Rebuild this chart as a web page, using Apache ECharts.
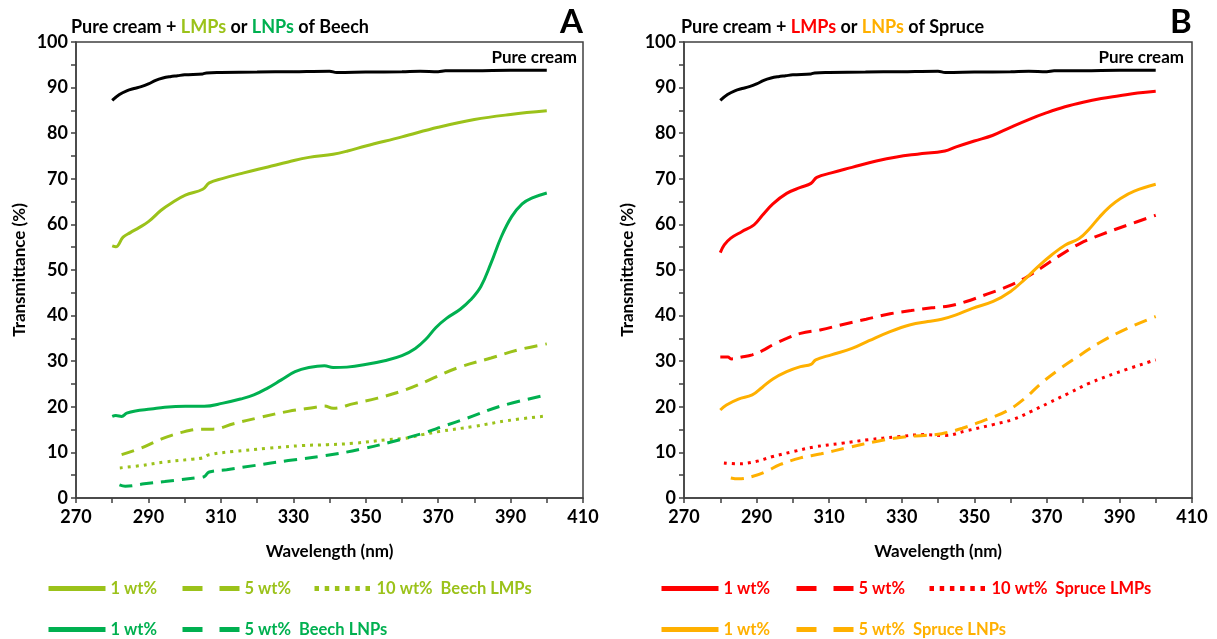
<!DOCTYPE html>
<html><head><meta charset="utf-8">
<script src="https://cdn.jsdelivr.net/npm/echarts@6/dist/echarts.min.js"></script>
<style>html,body{margin:0;padding:0;background:#fff}#c{width:1217px;height:639px}</style>
</head><body><div id="c"></div>
<script>
// ---------- data (wavelength nm, transmittance %) ----------
const xTicks = [270, 290, 310, 330, 350, 370, 390, 410];
const yTicks = [0, 10, 20, 30, 40, 50, 60, 70, 80, 90, 100];

const pureCream = [[280,87.2],[282,88.5],[284,89.3],[286,89.8],[288,90.2],[290,90.8],[292,91.6],[294,92.1],[296,92.4],[298,92.6],[300,92.8],[305,93.0],[306,93.2],[310,93.3],[320,93.4],[330,93.5],[340,93.6],[342,93.3],[350,93.4],[360,93.5],[365,93.6],[370,93.5],[372,93.7],[380,93.7],[390,93.8],[400,93.8]];

const beechLmp1 = [[280,55.3],[281,55.1],[283,57.2],[285,58.2],[287.4,59.3],[290,60.6],[293.5,63.1],[296.4,64.7],[300.2,66.4],[305,67.7],[306.8,69.1],[310.6,70.1],[316.3,71.3],[323,72.6],[328.6,73.7],[334.3,74.7],[341,75.4],[345,76.1],[350,77.2],[360,79.2],[370,81.3],[380,83.0],[390,84.1],[400,84.9]];
const beechLmp5 = [[282.6,9.5],[287.8,10.9],[293.5,12.9],[299.2,14.4],[304.9,15.1],[307.8,15.1],[313.5,16.3],[321,17.7],[328.6,19.0],[336.2,19.9],[338.6,20.2],[341,19.7],[346.7,20.7],[353.3,21.9],[360.9,23.7],[367.6,25.9],[375.2,28.5],[384.6,30.7],[392.2,32.5],[400,33.8]];
const beechLmp10 = [[282.1,6.6],[287.8,7.1],[294.5,7.9],[302.1,8.5],[304.9,8.8],[306.8,9.5],[313.5,10.2],[323,10.9],[332.4,11.5],[339.5,11.7],[346.7,12.0],[356.2,12.8],[360.9,13.1],[365.7,13.9],[370.4,14.6],[379.9,15.7],[389.4,17.0],[400,18.0]];
const beechLnp1 = [[280,17.9],[281,18.1],[282.6,17.9],[284,18.6],[286.4,19.1],[290.7,19.5],[294.5,19.9],[300.2,20.1],[305.4,20.1],[310.6,20.8],[315.4,21.7],[319.1,22.6],[322.9,24.1],[326.7,25.9],[330.5,27.7],[334.3,28.6],[338.6,29.0],[341,28.6],[344.8,28.7],[349.5,29.2],[355.2,30.1],[360,31.2],[363.7,32.8],[366.6,34.8],[369.4,37.4],[372.3,39.4],[376.1,41.4],[378.9,43.4],[381.8,46.4],[384.6,51.5],[387.5,57.4],[390.3,61.7],[393.2,64.5],[396,65.8],[400,66.9]];
const beechLnp5 = [[282,2.9],[283.6,2.6],[288.8,3.1],[294.5,3.6],[304,4.5],[305.4,4.7],[306.8,5.7],[311.6,6.2],[319.1,7.1],[328.6,8.2],[339,9.3],[348.6,10.7],[360,12.9],[366.6,14.4],[371.3,15.7],[378,17.5],[387.5,20.2],[400,22.6]];

const spruceLmp1 = [[280,53.8],[281.1,55.5],[282.9,57.0],[285.9,58.4],[289.3,59.9],[291.6,62.0],[294.5,64.5],[298.3,66.8],[302.1,68.1],[305,69.0],[306.6,70.3],[310.6,71.3],[316.3,72.5],[323,73.9],[328.6,74.8],[334.3,75.4],[341.9,76.1],[345,77.0],[350,78.3],[355,79.5],[360,81.3],[365,83.0],[370,84.5],[375,85.8],[380,86.8],[385,87.6],[390,88.2],[395,88.8],[400,89.2]];
const spruceLmp5 = [[280,30.9],[282.1,30.9],[283,30.5],[285.9,30.9],[288.8,31.4],[291.6,32.3],[294.5,33.6],[298.3,35.0],[302.1,36.1],[307.8,36.9],[313.5,38.0],[320.2,39.2],[326.8,40.4],[332.6,41.1],[338.3,41.7],[343,42.1],[347.8,43.1],[353.5,44.7],[359.2,46.4],[363.9,48.2],[368.7,50.6],[373.4,53.1],[379.1,55.8],[384.8,57.7],[392.4,59.9],[400,62.0]];
const spruceLmp10 = [[281,7.7],[285,7.5],[289.8,8.0],[294.5,9.1],[300.2,10.2],[305.9,11.2],[313.5,12.0],[321,12.8],[328.6,13.4],[336.2,13.9],[341.9,13.7],[347.6,14.7],[355.2,16.1],[360.9,17.3],[365.7,19.0],[370.4,20.8],[376.1,23.0],[381.8,25.2],[389.4,27.5],[400,30.3]];
const spruceLnp1 = [[280,19.3],[281.7,20.4],[285,21.7],[288.8,22.6],[291.6,24.3],[294.5,26.1],[298.3,27.7],[302.1,28.8],[305,29.3],[306.3,30.3],[310.6,31.4],[316.3,32.8],[321,34.5],[326.8,36.5],[332.4,38.0],[337.2,38.7],[341,39.2],[344.8,40.1],[349.5,41.6],[355.2,43.1],[360,45.3],[363.7,47.8],[367.5,50.7],[371.3,53.3],[375.1,55.5],[378.9,56.9],[381.8,59.1],[384.6,61.7],[387.5,64.0],[390.3,65.7],[394.1,67.3],[400,68.8]];
const spruceLnp5 = [[282.9,4.4],[285,4.2],[288.8,4.7],[292.6,5.8],[296.4,7.3],[302.1,8.8],[307.8,9.7],[315.4,11.1],[323,12.4],[330.6,13.4],[336.2,13.7],[341,14.1],[346.7,15.3],[353.3,17.2],[359,19.1],[363.7,21.7],[368.5,25.2],[373.2,28.1],[378.9,31.2],[384.6,34.1],[392.2,37.2],[400,39.8]];

const seriesNames = {
  aPure:'Pure cream', aL1:'1 wt%', aL5:'5 wt%', aL10:'10 wt%  Beech LMPs', aN1:'1 wt%', aN5:'5 wt%  Beech LNPs',
  bPure:'Pure cream', bL1:'1 wt%', bL5:'5 wt%', bL10:'10 wt%  Spruce LMPs', bN1:'1 wt%', bN5:'5 wt%  Spruce LNPs'
};

// ---------- styles ----------
const C = { black:'#000000', beechLmp:'#9BC21A', beechLnp:'#00B050', spruceLmp:'#FF0000', spruceLnp:'#FFB000' };
const FONT = 'Lato, "Open Sans", sans-serif';
const DASH = [13, 8], DOT = [3, 5];

const chart = echarts.init(document.getElementById('c'), null, {renderer:'canvas'});

function xAxis(idx){
  return {
    type:'value', gridIndex:idx, min:270, max:410, interval:10,
    axisLine:{show:true, lineStyle:{color:'#404040', width:1.5}},
    axisTick:{show:true, inside:false, length:5, lineStyle:{color:'#404040', width:1.5}},
    splitLine:{show:false},
    axisLabel:{color:'#000', fontFamily:FONT, fontWeight:'bold', fontSize:18, margin:10,
      formatter:v => xTicks.indexOf(v) >= 0 ? String(v) : ''},
    name:'Wavelength (nm)', nameLocation:'middle', nameGap:45,
    nameTextStyle:{color:'#000', fontFamily:FONT, fontWeight:'bold', fontSize:17}
  };
}
function yAxis(idx){
  return {
    type:'value', gridIndex:idx, min:0, max:100, interval:10,
    axisLine:{show:true, lineStyle:{color:'#404040', width:1.5}},
    axisTick:{show:true, length:5, lineStyle:{color:'#404040', width:1.5}},
    minorTick:{show:true, splitNumber:2, length:5, lineStyle:{color:'#404040', width:1.5}},
    splitLine:{show:false},
    axisLabel:{color:'#000', fontFamily:FONT, fontWeight:'bold', fontSize:18, margin:8,
      formatter:v => yTicks.indexOf(v) >= 0 ? String(v) : ''},
    name:'Transmittance (%)', nameLocation:'middle', nameGap:48,
    nameTextStyle:{color:'#000', fontFamily:FONT, fontWeight:'bold', fontSize:17}
  };
}
function line(id, idx, data, color, type){
  return { id:id, name:id, type:'line', xAxisIndex:idx, yAxisIndex:idx, data:data,
    showSymbol:false, symbol:'none', smooth:0.4, animation:false,
    lineStyle:{color:color, width:3, type:type, cap:'butt'}, itemStyle:{color:color}, z:3 };
}
function legendItem(name, left, top, color, type){
  return { show:true, left:left, top:top, padding:0, orient:'horizontal', itemWidth:57, itemHeight:14, itemGap:4,
    selectedMode:false,
    itemStyle:{opacity:0, borderWidth:0},
    data:[{name:name, itemStyle:{opacity:0, borderWidth:0}, lineStyle:{width:5, type:type, color:color, cap:'butt'}}],
    formatter:n => seriesNames[n],
    textStyle:{color:color, fontFamily:FONT, fontWeight:'bold', fontSize:16.5} };
}
const legDash = [20,17], legDot = [4.5,5.7];
const titleRich = (c1, c2) => ({
  a:{color:'#000',fontFamily:FONT,fontWeight:'bold',fontSize:18},
  b:{color:c1,fontFamily:FONT,fontWeight:'bold',fontSize:18},
  c:{color:c2,fontFamily:FONT,fontWeight:'bold',fontSize:18}
});

chart.setOption({
  backgroundColor:'#fff',
  animation:false,
  title:[
    {left:66, top:13, text:'{a|Pure cream + }{b|LMPs}{a| or }{c|LNPs}{a| of Beech}',
     textStyle:{rich:titleRich(C.beechLmp, C.beechLnp)}},
    {left:676, top:13, text:'{a|Pure cream + }{b|LMPs}{a| or }{c|LNPs}{a| of Spruce}',
     textStyle:{rich:titleRich(C.spruceLmp, C.spruceLnp)}}
  ],
  graphic:[
    {type:'text', left:560, top:6, style:{text:'A', fill:'#000', font:'bold 33px '+FONT}},
    {type:'text', left:1170, top:6, style:{text:'B', fill:'#000', font:'bold 33px '+FONT}},
    {type:'text', right:1217-577, top:49, style:{text:'Pure cream', fill:'#000', font:'bold 17px '+FONT}},
    {type:'text', right:1217-1184, top:49, style:{text:'Pure cream', fill:'#000', font:'bold 17px '+FONT}}
  ],
  grid:[
    {left:76, right:1217-583, top:42, bottom:639-498, show:true, borderColor:'#404040', borderWidth:1.5, backgroundColor:'transparent'},
    {left:684, right:1217-1192, top:42, bottom:639-498, show:true, borderColor:'#404040', borderWidth:1.5, backgroundColor:'transparent'}
  ],
  xAxis:[xAxis(0), xAxis(1)],
  yAxis:[yAxis(0), yAxis(1)],
  legend:[
    legendItem('aL1', 46, 580, C.beechLmp, 'solid'),
    legendItem('aL5', 180, 580, C.beechLmp, legDash),
    legendItem('aL10', 312, 580, C.beechLmp, legDot),
    legendItem('aN1', 46, 621, C.beechLnp, 'solid'),
    legendItem('aN5', 180, 621, C.beechLnp, legDash),
    legendItem('bL1', 659, 580, C.spruceLmp, 'solid'),
    legendItem('bL5', 794, 580, C.spruceLmp, legDash),
    legendItem('bL10', 927, 580, C.spruceLmp, legDot),
    legendItem('bN1', 659, 621, C.spruceLnp, 'solid'),
    legendItem('bN5', 794, 621, C.spruceLnp, legDash)
  ],
  series:[
    line('aPure', 0, pureCream, C.black, 'solid'),
    line('aL1', 0, beechLmp1, C.beechLmp, 'solid'),
    line('aL5', 0, beechLmp5, C.beechLmp, DASH),
    line('aL10', 0, beechLmp10, C.beechLmp, DOT),
    line('aN1', 0, beechLnp1, C.beechLnp, 'solid'),
    line('aN5', 0, beechLnp5, C.beechLnp, DASH),
    line('bPure', 1, pureCream, C.black, 'solid'),
    line('bL1', 1, spruceLmp1, C.spruceLmp, 'solid'),
    line('bL5', 1, spruceLmp5, C.spruceLmp, DASH),
    line('bL10', 1, spruceLmp10, C.spruceLmp, DOT),
    line('bN1', 1, spruceLnp1, C.spruceLnp, 'solid'),
    line('bN5', 1, spruceLnp5, C.spruceLnp, DASH)
  ]
});
</script></body></html>
